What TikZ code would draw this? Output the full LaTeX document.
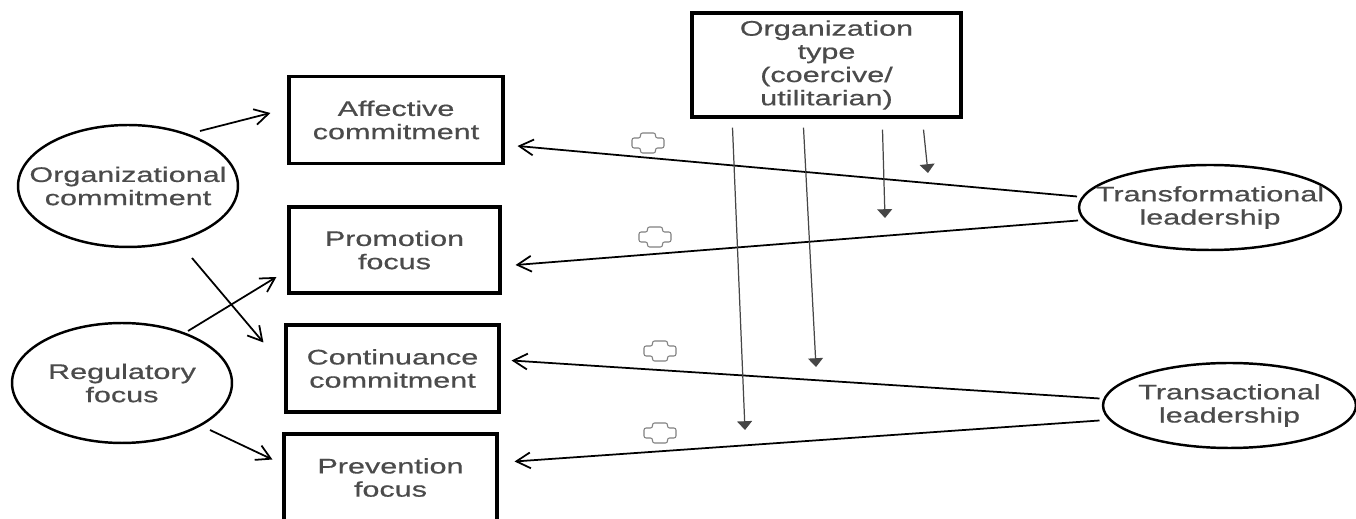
\documentclass[tikz,border=0pt]{standalone}
\usepackage{fontspec}
\setmainfont{Liberation Sans}[FakeStretch=1.45,FakeBold=0.6]
\usetikzlibrary{shapes.geometric,arrows.meta,calc}
\definecolor{txt}{RGB}{75,75,75}
\definecolor{vline}{RGB}{70,70,70}
\begin{document}
\begin{tikzpicture}[x=0.02cm,y=-0.02cm,
  lbl/.style={text=txt, align=center, font=\fontsize{12}{13.2}\selectfont, inner sep=0pt},
  box/.style={lbl, draw, line width=1.8pt},
  ell/.style={draw, ellipse, line width=1.4pt, inner sep=0pt},
  arr/.style={line width=1pt, -{Straight Barb[length=8pt,width=9pt,line width=1pt]}},
  varr/.style={line width=0.7pt, draw=vline, -{Triangle[length=5pt,width=8.5pt]}},
  plusmark/.pic={\draw[gray, line width=0.6pt, rounded corners=1.2pt]
    (-7.5,-10) -- (7.5,-10) -- (7.5,-5) -- (16,-5) -- (16,5) -- (7.5,5) -- (7.5,10)
    -- (-7.5,10) -- (-7.5,5) -- (-16,5) -- (-16,-5) -- (-7.5,-5) -- cycle;}
]
\useasboundingbox (0,0) rectangle (1356,519);

% boxes
\node[box, minimum width=4.28cm, minimum height=1.74cm] (aff) at (396,120) {Affective\\commitment};
\node[box, minimum width=4.22cm, minimum height=1.72cm] (prom) at (394.5,250) {Promotion\\focus};
\node[box, minimum width=4.26cm, minimum height=1.74cm] (cont) at (392.5,368.5) {Continuance\\commitment};
\node[box, minimum width=4.26cm, minimum height=1.74cm] (prev) at (390.5,477.5) {Prevention\\focus};
\node[box, minimum width=5.38cm, minimum height=2.08cm] (ot) at (826.5,65) {Organization\\type\\(coercive/\\utilitarian)};

% ellipses (text set as centred label so the outline keeps its own size)
\node[ell, minimum width=4.4cm, minimum height=2.44cm,
      label={[lbl]center:Organizational\\commitment}] (oc) at (128,186) {};
\node[ell, minimum width=4.4cm, minimum height=2.4cm,
      label={[lbl]center:Regulatory\\focus}] (rf) at (122,383) {};
\node[ell, minimum width=5.24cm, minimum height=1.7cm,
      label={[lbl]center:Transformational\\leadership}] (tf) at (1210,207.5) {};
\node[ell, minimum width=5.06cm, minimum height=1.7cm,
      label={[lbl]center:Transactional\\leadership}] (tc) at (1229.5,405.5) {};

% left arrows
\draw[arr] ($(oc.center)+(72,-55)$) -- ($(aff.west)+(-17,-7)$);
\draw[arr] ($(oc.center)+(64,72)$) -- ($(cont.west)+(-21,-26)$);
\draw[arr] ($(rf.center)+(66,-52)$) -- ($(prom.west)+(-11,27)$);
\draw[arr] ($(rf.center)+(88,47)$) -- ($(prev.west)+(-10,-18)$);

% leadership arrows
\draw[arr] ($(tf.center)+(-133,-11)$) -- ($(aff.east)+(13,26)$);
\draw[arr] ($(tf.center)+(-132,13)$) -- ($(prom.east)+(14,15)$);
\draw[arr] ($(tc.center)+(-130,-7)$) -- ($(cont.east)+(11,-8)$);
\draw[arr] ($(tc.center)+(-130,15)$) -- ($(prev.east)+(16,-16)$);

% moderator arrows
\coordinate (m1) at (745,430);
\coordinate (m2) at (816,367);
\coordinate (m3) at (885,218);
\coordinate (m4) at (928,173);
\draw[varr] ($(ot.south)+(-94,9)$) -- (m1);
\draw[varr] ($(ot.south)+(-23,9)$) -- (m2);
\draw[varr] ($(ot.south)+(56,11)$) -- (m3);
\draw[varr] ($(ot.south)+(97,11)$) -- (m4);

% plus marks
\pic at (648,143) {plusmark};
\pic at (655,237) {plusmark};
\pic at (660,351) {plusmark};
\pic at (660,433) {plusmark};
\end{tikzpicture}
\end{document}
